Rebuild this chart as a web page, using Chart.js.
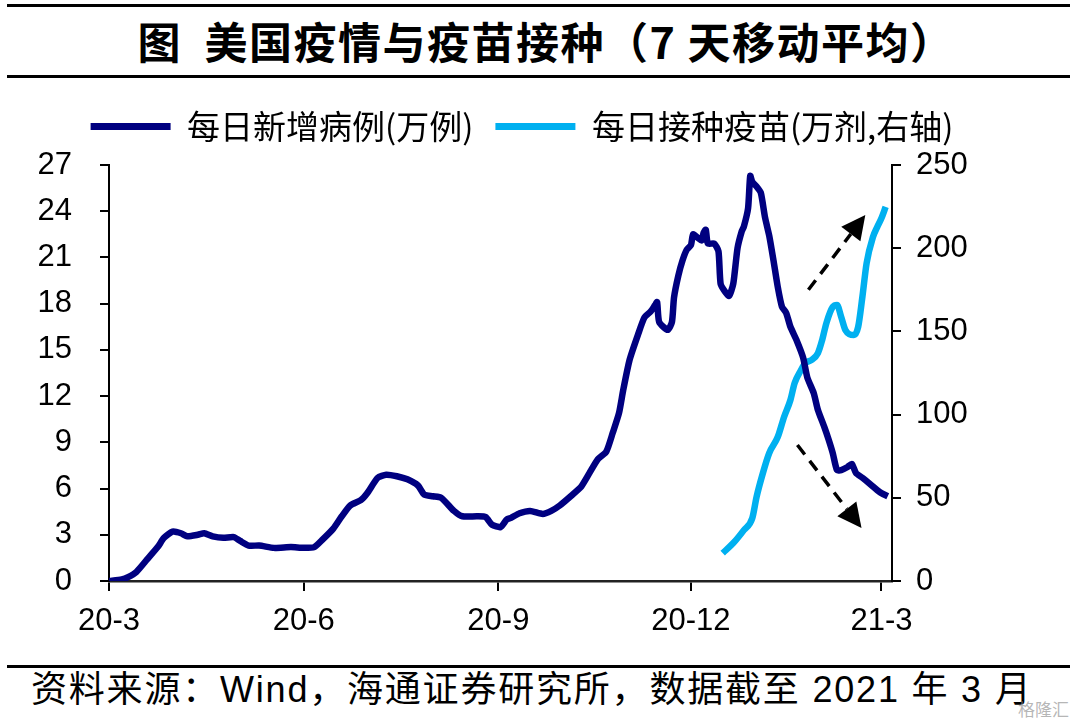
<!DOCTYPE html>
<html>
<head>
<meta charset="utf-8">
<script src="https://cdn.jsdelivr.net/npm/chart.js@4/dist/chart.umd.min.js"></script>
<style>
  html, body { margin: 0; padding: 0; background: #fff; }
  #page { position: relative; width: 1080px; height: 720px; overflow: hidden; }
  .rule { position: absolute; left: 7px; width: 1063px; height: 3px; background: #000; }
  #title { position: absolute; top: 14px; left: 12px; width: 1068px; text-align: center; white-space: pre;
           font: bold 43px "Noto Sans CJK SC"; letter-spacing: 1.5px; line-height: 52px; color: #000; }
  #wrap { position: absolute; left: 0; top: 80px; width: 1080px; height: 580px; }
  #source { position: absolute; left: 31px; top: 668px; white-space: pre; color: #000; letter-spacing: 1.8px;
            font: 36px "Liberation Sans", "Noto Sans CJK SC"; line-height: 44px; }
  #mark { position: absolute; left: 1018px; top: 696px; font: 17px "Noto Sans CJK SC"; color: rgba(150,150,150,0.7); }
</style>
</head>
<body>
<div id="page">
  <div class="rule" style="top:4px"></div>
  <div id="title">图  美国疫情与疫苗接种（7 天移动平均）</div>
  <div class="rule" style="top:75px"></div>
  <div id="wrap"><canvas id="covidChart"></canvas></div>
  <div class="rule" style="top:665px"></div>
  <div id="source">资料来源：Wind，海通证券研究所，数据截至 2021 年 3 月</div>
  <div id="mark">格隆汇</div>
</div>
<script>
// days counted from 2020-03-01
const caseDays = [0, 6, 9, 13, 18, 23, 26, 30, 34, 37, 42, 45, 49, 54, 59, 62, 66, 71, 78, 86,
  92, 97, 101, 106, 110, 114, 119, 122, 127, 131, 136, 141, 146, 149, 153, 157, 163, 167, 174, 178,
  181, 185, 188, 190, 194, 199, 205, 209, 213, 219, 223, 227, 231, 235, 238, 241, 243, 246, 250, 253,
  256, 258, 259, 260, 264, 266, 267, 269, 271, 273, 275, 276, 278, 280, 281, 282, 283, 286, 288, 289,
  291, 293, 295, 297, 299, 300, 302, 303, 304, 306, 308, 310, 312, 314, 316, 318, 320, 322, 325, 328,
  330, 333, 335, 338, 340, 342, 344, 346, 349, 351, 353, 356, 360, 363, 365, 368];
const caseValues = [0.0, 0.1, 0.25, 0.6, 1.4, 2.2, 2.8, 3.2, 3.1, 2.9, 3.0, 3.1, 2.9, 2.8, 2.85, 2.6, 2.3, 2.3, 2.15, 2.2,
  2.15, 2.2, 2.7, 3.4, 4.2, 4.9, 5.25, 5.7, 6.7, 6.9, 6.8, 6.6, 6.2, 5.6, 5.5, 5.4, 4.55, 4.2, 4.2, 4.15,
  3.65, 3.5, 4.0, 4.1, 4.4, 4.55, 4.35, 4.55, 4.9, 5.6, 6.1, 7.0, 7.9, 8.4, 9.6, 10.9, 12.4, 14.35, 16.0, 17.1,
  17.5, 17.9, 18.1, 16.8, 16.3, 16.8, 18.4, 19.8, 20.8, 21.5, 21.8, 22.5, 22.3, 22.1, 22.6, 22.8, 21.9, 21.9, 21.4, 19.3,
  18.8, 18.5, 19.3, 21.6, 22.7, 23.0, 24.2, 26.3, 25.9, 25.6, 25.2, 23.6, 22.4, 20.8, 19.1, 17.8, 17.4, 16.5, 15.6, 14.5,
  13.2, 12.2, 11.1, 10.0, 9.2, 8.3, 7.2, 7.2, 7.4, 7.6, 7.0, 6.7, 6.25, 5.9, 5.7, 5.5];

const vaccDays = [290, 295, 300, 304, 306, 309, 312, 316, 319, 322, 324, 327, 329, 332, 335, 337, 339, 342, 344,
  346, 348, 352, 354, 356, 358, 361, 363, 365, 367];
const vaccValues = [16.8, 22.8, 30.6, 37.9, 50.5, 64.9, 76.9, 86.5, 98.6, 108.8, 119, 126.8, 131, 132.8, 137, 144.8, 155, 164.7, 165.9,
  158.7, 150.8, 147.8, 152.6, 170.7, 191, 206.7, 212.7, 218, 224.8];

const xTickDays = [0, 92, 184, 275, 365];
const xTickLabels = ['20-3', '20-6', '20-9', '20-12', '21-3'];
const seriesNames = ['每日新增病例(万例)', '每日接种疫苗(万剂,右轴)'];

// trend arrows, in (day, right-axis value)
const trendArrows = [
  { from: [330.5, 175], to: [357.4, 220] },
  { from: [325.3, 81.7], to: [355.6, 31.9] }
];

const tickFont = { family: 'Liberation Sans', size: 31 };

// dashed arrows
const arrowPlugin = {
  id: 'trendArrows',
  afterDatasetsDraw(chart) {
    const { ctx } = chart;
    const xs = chart.scales.x, ys = chart.scales.y2;
    trendArrows.forEach(a => {
      const x1 = xs.getPixelForValue(a.from[0]), y1 = ys.getPixelForValue(a.from[1]);
      const x2 = xs.getPixelForValue(a.to[0]), y2 = ys.getPixelForValue(a.to[1]);
      const ang = Math.atan2(y2 - y1, x2 - x1);
      const headLen = 24, headHalf = 12;
      const bx = x2 - headLen * Math.cos(ang), by = y2 - headLen * Math.sin(ang);
      ctx.save();
      ctx.strokeStyle = '#000';
      ctx.lineWidth = 3.5;
      ctx.setLineDash([12, 8]);
      ctx.beginPath();
      ctx.moveTo(x1, y1);
      ctx.lineTo(bx, by);
      ctx.stroke();
      ctx.setLineDash([]);
      ctx.fillStyle = '#000';
      ctx.beginPath();
      ctx.moveTo(x2, y2);
      ctx.lineTo(bx + headHalf * Math.sin(ang), by - headHalf * Math.cos(ang));
      ctx.lineTo(bx - headHalf * Math.sin(ang), by + headHalf * Math.cos(ang));
      ctx.closePath();
      ctx.fill();
      ctx.restore();
    });
  }
};

new Chart(document.getElementById('covidChart'), {
  type: 'line',
  data: {
    datasets: [{
      label: seriesNames[0],
      data: caseDays.map((d, i) => ({ x: d, y: caseValues[i] })),
      borderColor: '#000080',
      backgroundColor: '#000080',
      borderWidth: 6.5,
      pointRadius: 0,
      tension: 0.2,
      yAxisID: 'y'
    }, {
      label: seriesNames[1],
      data: vaccDays.map((d, i) => ({ x: d, y: vaccValues[i] })),
      borderColor: '#00b0f0',
      backgroundColor: '#00b0f0',
      borderWidth: 6.5,
      pointRadius: 0,
      cubicInterpolationMode: 'monotone',
      yAxisID: 'y2'
    }]
  },
  options: {
    responsive: true,
    maintainAspectRatio: false,
    animation: false,
    layout: { padding: { top: 8, left: 0, right: 36, bottom: 0 } },
    plugins: {
      tooltip: { enabled: false },
      legend: {
        position: 'top',
        labels: {
          boxWidth: 80,
          boxHeight: 7,
          padding: 22,
          color: '#000',
          font: { family: 'Noto Sans CJK SC', size: 33 },
          generateLabels(chart) {
            return chart.data.datasets.map((ds, i) => ({
              text: ds.label,
              fillStyle: ds.borderColor,
              strokeStyle: ds.borderColor,
              lineWidth: 0,
              datasetIndex: i,
              fontColor: '#000'
            }));
          }
        }
      }
    },
    scales: {
      x: {
        type: 'linear',
        min: 0,
        max: 370,
        afterBuildTicks(scale) { scale.ticks = xTickDays.map(v => ({ value: v })); },
        afterFit(scale) { scale.height = 79; },
        ticks: {
          autoSkip: false, maxRotation: 0, padding: 12, color: '#000', font: tickFont,
          callback: v => xTickLabels[xTickDays.indexOf(v)]
        },
        grid: { drawOnChartArea: false, color: '#000', lineWidth: 2, tickLength: 10 },
        border: { color: '#222', width: 2.5 }
      },
      // empty top axis: keeps a gap between legend and plot
      gap: {
        type: 'linear',
        axis: 'x',
        position: 'top',
        afterFit(scale) { scale.height = 12; },
        ticks: { display: false },
        grid: { display: false },
        border: { display: false }
      },
      y: {
        position: 'left',
        min: 0,
        max: 27,
        afterFit(scale) { scale.width = 109; },
        ticks: { stepSize: 3, padding: 28, color: '#000', font: tickFont },
        grid: { drawOnChartArea: false, color: '#000', lineWidth: 2, tickLength: 9 },
        border: { color: '#000', width: 2 }
      },
      y2: {
        position: 'right',
        min: 0,
        max: 250,
        afterFit(scale) { scale.width = 152; },
        ticks: { stepSize: 50, padding: 15, color: '#000', font: tickFont },
        grid: { drawOnChartArea: false, color: '#000', lineWidth: 2, tickLength: 9 },
        border: { color: '#000', width: 2 }
      }
    }
  },
  plugins: [arrowPlugin]
});
</script>
</body>
</html>
